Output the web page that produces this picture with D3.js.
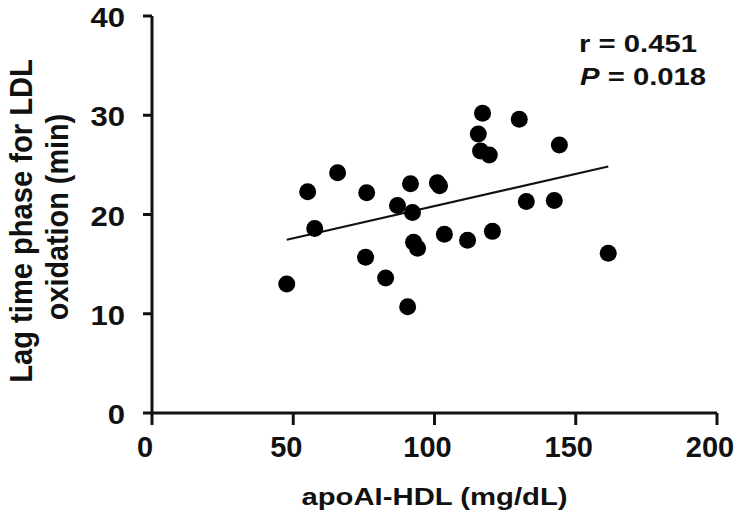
<!DOCTYPE html>
<html>
<head>
<meta charset="utf-8">
<script src="https://cdn.jsdelivr.net/npm/d3@7"></script>
<style>
  body { margin: 0; background: #fff; }
  text { font-family: "Liberation Sans", Arial, sans-serif; font-weight: bold; fill: #111; }
</style>
</head>
<body>
<div id="chart"></div>
<script>

// apoAI-HDL (mg/dL) for each subject
var apoHdl = [47.7, 55.1, 57.6, 65.7, 75.6, 76.0, 82.7, 86.9, 90.5, 91.5, 92.2, 92.6, 94.0,
              101.0, 101.8, 103.5, 111.7, 117.0, 115.5, 116.3, 119.4, 120.5, 130.0, 132.5,
              142.4, 144.2, 161.5];

// lag time phase for LDL oxidation (min)
var lagTime = [13.0, 22.3, 18.6, 24.2, 15.7, 22.2, 13.6, 20.9, 10.7, 23.1, 20.2, 17.2, 16.6,
               23.2, 22.9, 18.0, 17.4, 30.2, 28.1, 26.4, 26.0, 18.3, 29.6, 21.3,
               21.4, 27.0, 16.1];

// regression line
var fitIntercept = 14.37,
    fitSlope = 0.0648;

var xTicks = [0, 50, 100, 150, 200],
    yTicks = [0, 10, 20, 30, 40];

var statLines = ['r = 0.451', 'P = 0.018'];

var width = 738,
    height = 521,
    margin = {top: 16, right: 20, bottom: 108, left: 152};

var svg = d3.select('#chart')
  .append('svg')
  .attr('width', width)
  .attr('height', height);

var x = d3.scaleLinear().domain([0, 200]).range([margin.left, 717]),
    y = d3.scaleLinear().domain([0, 40]).range([413, margin.top]);

// text in the source figure is stretched differently per box, so scale each one
var label = (tx, ty, size, sx, extra) => {
  return svg.append('text')
    .attr('transform', 'translate(' + tx + ',' + ty + ')' + (extra || '') + ' scale(' + sx + ',1)')
    .style('font-size', size + 'px');
};

// axes drawn by hand so the lines stay thick and square
var axis = svg.append('g')
  .attr('stroke', '#111')
  .attr('stroke-width', 3)
  .attr('fill', 'none');

axis.append('path')
  .attr('d', 'M' + x(0) + ',' + y(40) + 'V' + y(0) + 'H' + x(200));

axis.selectAll('.ytick')
  .data(yTicks)
  .enter().append('line')
  .attr('x1', x(0) - 9).attr('x2', x(0))
  .attr('y1', function(d) { return y(d); })
  .attr('y2', function(d) { return y(d); });

axis.selectAll('.xtick')
  .data(xTicks)
  .enter().append('line')
  .attr('x1', function(d) { return x(d); })
  .attr('x2', function(d) { return x(d); })
  .attr('y1', y(0)).attr('y2', y(0) + 12);

// tick labels
yTicks.forEach(function(d) {
  label(125, y(d) + 11, 27, 1.15).attr('text-anchor', 'end').text(d);
});

xTicks.forEach(function(d) {
  label(x(d) - 7, 457, 29, 1.0).attr('text-anchor', 'middle').text(d);
});

// axis titles
label(x(100), 505, 24, 1.22).attr('text-anchor', 'middle').text('apoAI-HDL (mg/dL)');
label(32, 221, 32, 0.91, ' rotate(-90)').attr('text-anchor', 'middle').text('Lag time phase for LDL');
label(68, 217, 32, 0.90, ' rotate(-90)').attr('text-anchor', 'middle').text('oxidation (min)');

// regression line over the range of the data
var xExt = d3.extent(apoHdl);
svg.append('line')
  .attr('x1', x(xExt[0])).attr('y1', y(fitIntercept + fitSlope * xExt[0]))
  .attr('x2', x(xExt[1])).attr('y2', y(fitIntercept + fitSlope * xExt[1]))
  .attr('stroke', '#111')
  .attr('stroke-width', 2.2);

// points
svg.selectAll('circle')
  .data(d3.zip(apoHdl, lagTime))
  .enter().append('circle')
  .attr('cx', function(d) { return x(d[0]); })
  .attr('cy', function(d) { return y(d[1]); })
  .attr('r', 8.5)
  .attr('fill', '#000');

// stats
label(579, 52, 24, 1.22).text(statLines[0]);

var stat2 = label(580, 85, 24, 1.22);
stat2.append('tspan').style('font-style', 'italic').text(statLines[1].slice(0, 1));
stat2.append('tspan').text(statLines[1].slice(1));

</script>
</body>
</html>
